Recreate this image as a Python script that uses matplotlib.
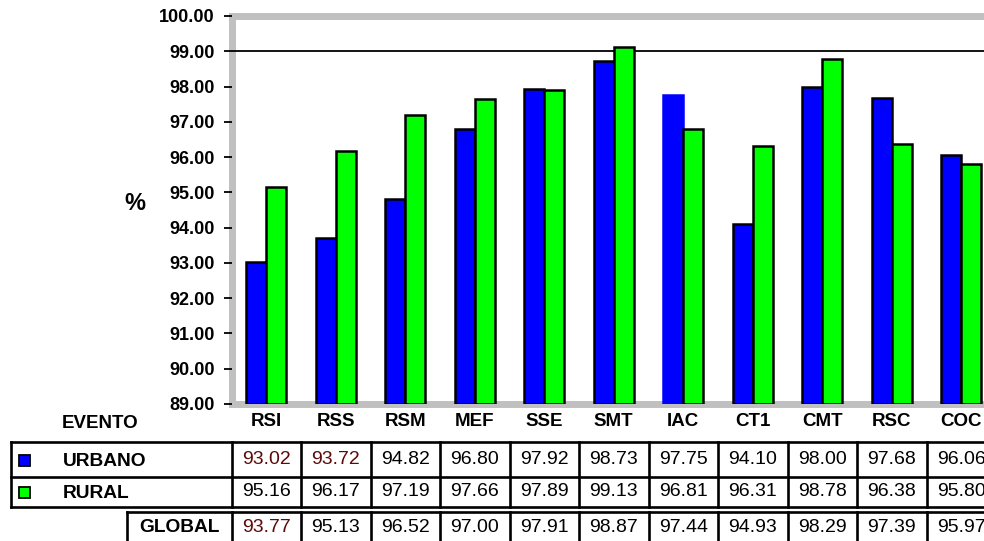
import matplotlib
matplotlib.use("Agg")
import matplotlib.pyplot as plt
from matplotlib.lines import Line2D
from matplotlib.patches import Rectangle
from matplotlib.transforms import blended_transform_factory

plt.rcParams['font.family'] = ['Liberation Sans', 'DejaVu Sans']

# ---- data ----
categories = ["RSI", "RSS", "RSM", "MEF", "SSE", "SMT", "IAC", "CT1", "CMT", "RSC", "COC"]
urbano = [93.02, 93.72, 94.82, 96.80, 97.92, 98.73, 97.75, 94.10, 98.00, 97.68, 96.06]
rural = [95.16, 96.17, 97.19, 97.66, 97.89, 99.13, 96.81, 96.31, 98.78, 96.38, 95.80]
global_vals = [93.77, 95.13, 96.52, 97.00, 97.91, 98.87, 97.44, 94.93, 98.29, 97.39, 95.97]
y_ticks = [89, 90, 91, 92, 93, 94, 95, 96, 97, 98, 99, 100]
target = 99.0

W, H = 984, 541
BLUE = "#0000ff"
GREEN = "#00ff00"
GRAY = "#c0c0c0"
DARK_RED = "#5c0a0a"

fig = plt.figure(figsize=(W / 100, H / 100), dpi=100)
fig.patch.set_facecolor("white")


def fy(py):
    """figure fraction from pixel row"""
    return 1 - py / H


def fx(px):
    return px / W


ax_left, ax_right = 231.5, 996.0
ax_top, ax_bottom = 16.0, 404.0
ax = fig.add_axes([fx(ax_left), fy(ax_bottom), fx(ax_right - ax_left), (ax_bottom - ax_top) / H])

n = len(categories)
xs = list(range(n))
bw = 0.29

u_edges = ["black"] * n
u_edges[categories.index("IAC")] = BLUE
ax.bar([x - bw / 2 for x in xs], [u - 89 for u in urbano], bottom=89, width=bw,
       color=BLUE, edgecolor=u_edges, linewidth=1.8, zorder=3)
ax.bar([x + bw / 2 for x in xs], [r - 89 for r in rural], bottom=89, width=bw,
       color=GREEN, edgecolor="black", linewidth=1.8, zorder=3)

ax.axhline(target, color="black", linewidth=1.3, zorder=2)

ax.set_xlim(-0.5, n - 0.5)
ax.set_ylim(89, 100)
ax.set_yticks(y_ticks)
ax.set_yticklabels([f"{v:.2f}" for v in y_ticks], fontsize=13, fontweight="bold")
ax.tick_params(axis="y", direction="out", length=6, width=1.3, pad=6, color="black")
ax.set_xticks([])
for s in ax.spines.values():
    s.set_color(GRAY)
    s.set_linewidth(5)
    s.set_zorder(1)
ax.set_axisbelow(False)

fig.text(fx(135), fy(203), "%", fontsize=17, fontweight="bold", ha="center", va="center")

# ---- table below the chart ----
bt = blended_transform_factory(ax.transData, fig.transFigure)
lw_tab = 1.9


def hline(x0, x1, py):
    fig.add_artist(Line2D([fx(x0), fx(x1)], [fy(py), fy(py)], color="black",
                          linewidth=lw_tab, transform=fig.transFigure, clip_on=False))


def vline_px(px, y0, y1):
    fig.add_artist(Line2D([fx(px), fx(px)], [fy(y0), fy(y1)], color="black",
                          linewidth=lw_tab, transform=fig.transFigure, clip_on=False))


def vline_data(xd, y0, y1):
    fig.add_artist(Line2D([xd, xd], [fy(y0), fy(y1)], color="black",
                          linewidth=lw_tab, transform=bt, clip_on=False))


fig.text(fx(100), fy(424), "EVENTO", fontsize=13.5, fontweight="bold", ha="center", va="center")
for i, c in enumerate(categories):
    fig.text(i, fy(422), c, fontsize=13.5, fontweight="bold", ha="center", va="center",
             transform=bt)

# URBANO / RURAL block
row_top, row_mid, row_bot = 442, 477, 507
hline(11, W + 20, row_top)
hline(11, W + 20, row_mid)
hline(11, W + 20, row_bot)
vline_px(11, row_top, row_bot)
for i in range(n + 1):
    vline_data(i - 0.5, row_top, row_bot)

for py, col in ((460, BLUE), (492, GREEN)):
    fig.add_artist(Rectangle((fx(19), fy(py + 5.5)), fx(11), 11 / H, facecolor=col,
                             edgecolor="black", linewidth=1.3, transform=fig.transFigure))

fig.text(fx(63), fy(461), "URBANO", fontsize=13.8, fontweight="bold", ha="left", va="center")
fig.text(fx(63), fy(493), "RURAL", fontsize=13.8, fontweight="bold", ha="left", va="center")

red_cells = {("u", 0), ("u", 1), ("g", 0)}
for i in range(n):
    fig.text(i, fy(460), f"{urbano[i]:.2f}", fontsize=14, ha="center", va="center",
             transform=bt, color=DARK_RED if ("u", i) in red_cells else "black")
    fig.text(i, fy(492), f"{rural[i]:.2f}", fontsize=14, ha="center", va="center",
             transform=bt, color="black")

# GLOBAL block
g_top = 512
hline(127, W + 20, g_top)
vline_px(127, g_top, H + 10)
for i in range(n + 1):
    vline_data(i - 0.5, g_top, H + 10)
fig.text(fx(220), fy(527), "GLOBAL", fontsize=13.8, fontweight="bold", ha="right", va="center")
for i in range(n):
    fig.text(i, fy(527), f"{global_vals[i]:.2f}", fontsize=14, ha="center", va="center",
             transform=bt, color=DARK_RED if ("g", i) in red_cells else "black")

fig.savefig("out.png", dpi=100)
